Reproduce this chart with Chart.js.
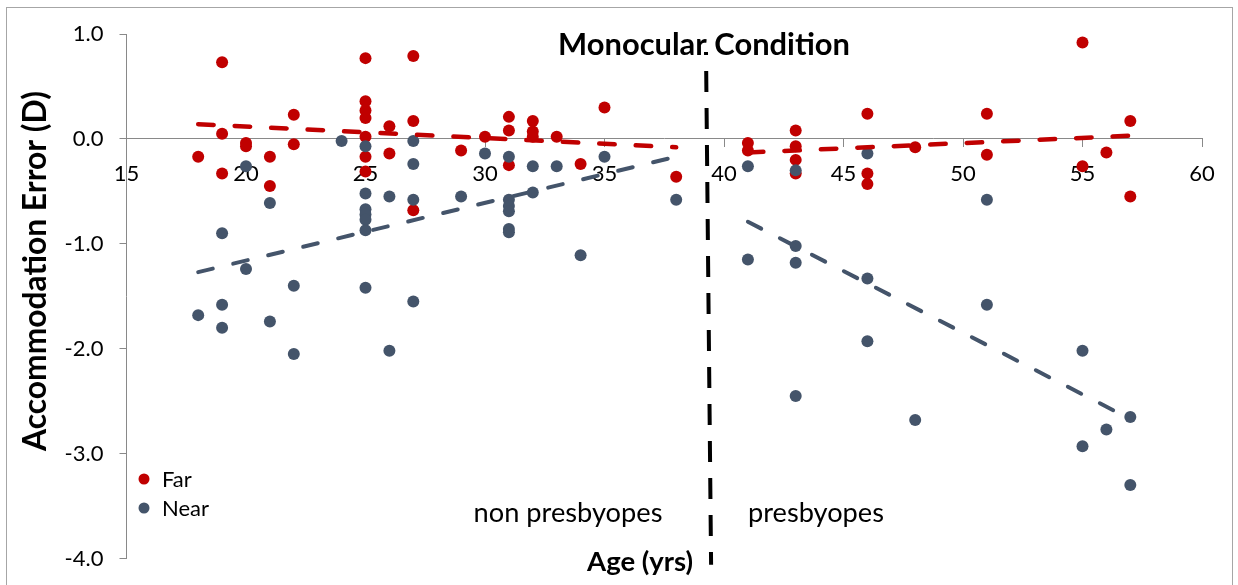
<!DOCTYPE html>
<html><head><meta charset="utf-8">
<script src="https://cdn.jsdelivr.net/npm/chart.js@4.4.1/dist/chart.umd.min.js"></script>
<style>html,body{margin:0;padding:0;background:#fff;} canvas{display:block;}</style>
</head><body>
<canvas id="c" width="1238" height="585"></canvas>
<script>
// ---- data ----
const farAges   = [18,19,19,19,20,20,21,21,22,22,25,25,25,25,25,25,25,26,26,27,27,27,29,30,31,31,31,32,32,32,33,34,35,38,41,41,43,43,43,43,46,46,46,48,51,51,55,55,56,57,57];
const farErrors = [-0.17,0.73,0.05,-0.33,-0.04,-0.07,-0.17,-0.45,0.23,-0.05,0.77,0.36,0.27,0.20,0.02,-0.17,-0.31,0.12,-0.14,0.79,0.17,-0.68,-0.11,0.02,0.21,0.08,-0.25,0.17,0.07,0.02,0.02,-0.24,0.30,-0.36,-0.04,-0.11,0.08,-0.07,-0.20,-0.33,0.24,-0.33,-0.43,-0.08,0.24,-0.15,0.92,-0.26,-0.13,0.17,-0.55];
const nearAges   = [18,19,19,19,20,20,21,21,22,22,24,25,25,25,25,25,25,25,26,26,27,27,27,27,29,30,31,31,31,31,31,31,32,32,33,34,35,38,41,41,43,43,43,43,46,46,46,48,51,51,55,55,56,57,57];
const nearErrors = [-1.68,-0.90,-1.58,-1.80,-0.26,-1.24,-0.61,-1.74,-1.40,-2.05,-0.02,-0.07,-0.52,-0.67,-0.72,-0.77,-0.87,-1.42,-0.55,-2.02,-0.02,-0.24,-0.58,-1.55,-0.55,-0.14,-0.17,-0.58,-0.64,-0.69,-0.86,-0.89,-0.26,-0.51,-0.26,-1.11,-0.17,-0.58,-0.26,-1.15,-0.30,-1.02,-1.18,-2.45,-0.14,-1.33,-1.93,-2.68,-0.58,-1.58,-2.02,-2.93,-2.77,-2.65,-3.30];

// trend lines (end points)
const trendNonAges  = [18, 38];
const farTrendNon   = [0.14, -0.08];
const nearTrendNon  = [-1.27, -0.17];
const trendPresAges = [41, 57];
const farTrendPres  = [-0.13, 0.03];
const nearTrendPres = [-0.79, -2.67];

// presbyopia divider
const dividerAges   = [39.24, 39.46];
const dividerErrors = [1.0, -4.06];

// axes / labels
const xMin = 15, xMax = 60, xStep = 5;
const yMin = -4, yMax = 1, yStep = 1;
const seriesNames = ['Far', 'Near'];
const chartTitle = 'Monocular Condition';
const xTitle = 'Age (yrs)';
const yTitle = 'Accommodation Error (D)';
const groupLabels = ['non presbyopes', 'presbyopes'];

const RED = '#C00000', BLUE = '#44546A', AXIS = '#898989';
const pts = (xs, ys) => xs.map((x, i) => ({x: x, y: ys[i]}));

function fitSize(ctx, text, weight, target) {
  ctx.font = weight + ' 100px Lato';
  return 100 * target / ctx.measureText(text).width;
}

const decor = {
  id: 'decor',
  beforeDraw(chart) {
    const ctx = chart.ctx;
    ctx.save();
    ctx.fillStyle = '#fff';
    ctx.fillRect(0, 0, chart.width, chart.height);
    ctx.strokeStyle = '#a6a6a6';
    ctx.lineWidth = 1;
    ctx.strokeRect(6.5, 7.5, 1226, 600);
    ctx.restore();
  },
  afterDraw(chart) {
    const ctx = chart.ctx;
    ctx.save();
    ctx.fillStyle = '#000';
    ctx.textBaseline = 'alphabetic';
    ctx.textAlign = 'center';
    // chart title with white box
    let s = fitSize(ctx, chartTitle, 'bold', 292);
    ctx.font = 'bold ' + s + 'px Lato';
    let w = ctx.measureText(chartTitle).width;
    ctx.fillStyle = '#fff';
    ctx.fillRect(704 - w / 2 - 4, 26, w + 8, 26);
    ctx.fillStyle = '#000';
    ctx.fillText(chartTitle, 704, 55);
    // x title
    s = fitSize(ctx, xTitle, 'bold', 106);
    ctx.font = 'bold ' + s + 'px Lato';
    ctx.fillText(xTitle, 640, 571);
    // y title
    s = fitSize(ctx, yTitle, 'bold', 360);
    ctx.font = 'bold ' + s + 'px Lato';
    ctx.save();
    ctx.translate(46, 271);
    ctx.rotate(-Math.PI / 2);
    ctx.fillText(yTitle, 0, 0);
    ctx.restore();
    // group labels
    s = fitSize(ctx, groupLabels[0], 'normal', 189);
    ctx.font = 'normal ' + s + 'px Lato';
    ctx.fillText(groupLabels[0], 568, 522);
    s = fitSize(ctx, groupLabels[1], 'normal', 136);
    ctx.font = 'normal ' + s + 'px Lato';
    ctx.fillText(groupLabels[1], 816, 522);
    // legend
    s = fitSize(ctx, seriesNames[1], 'normal', 47);
    ctx.font = 'normal ' + s + 'px Lato';
    ctx.textAlign = 'left';
    const legendCols = [RED, BLUE];
    seriesNames.forEach((name, i) => {
      const cy = 479 + i * 29;
      ctx.fillStyle = legendCols[i];
      ctx.beginPath(); ctx.arc(144, cy, 5.5, 0, Math.PI * 2); ctx.fill();
      ctx.fillStyle = '#000';
      ctx.fillText(name, 162, cy + 8);
    });
    ctx.restore();
  }
};

const trend = (xs, ys, color, width, dash) => ({
  type: 'line', data: pts(xs, ys), showLine: true, borderColor: color, borderWidth: width,
  borderDash: dash, borderCapStyle: 'round', pointRadius: 0, fill: false, order: 0
});

new Chart(document.getElementById('c'), {
  type: 'scatter',
  data: {
    datasets: [
      {label: 'divider', type: 'line', data: pts(dividerAges, dividerErrors), showLine: true,
       borderColor: '#000', borderWidth: 4, borderDash: [21, 16], borderCapStyle: 'butt',
       pointRadius: 0, fill: false, clip: false, order: 0},
      trend(trendNonAges, farTrendNon, RED, 4.5, [15.5, 21]),
      trend(trendPresAges, farTrendPres, RED, 4.5, [15.5, 21]),
      trend(trendNonAges, nearTrendNon, BLUE, 4, [15, 21]),
      trend(trendPresAges, nearTrendPres, BLUE, 4, [15, 21]),
      {label: seriesNames[1], data: pts(nearAges, nearErrors), backgroundColor: BLUE, borderWidth: 0, pointRadius: 6, order: 1},
      {label: seriesNames[0], data: pts(farAges, farErrors), backgroundColor: RED, borderWidth: 0, pointRadius: 6, order: 2}
    ]
  },
  options: {
    responsive: false, animation: false, devicePixelRatio: 1,
    layout: {padding: {left: 0, top: 34, right: 36, bottom: 26.5}},
    plugins: {legend: {display: false}, tooltip: {enabled: false}, title: {display: false}},
    scales: {
      x: {
        type: 'linear', position: {y: 0}, min: xMin, max: xMax, z: 1,
        ticks: {stepSize: xStep, color: '#000', font: {family: 'Lato', size: 22}, padding: 14, maxRotation: 0, autoSkip: false},
        grid: {drawOnChartArea: false, drawTicks: true, tickLength: 8, color: AXIS},
        border: {display: true, color: AXIS, width: 1},
        afterFit: (sc) => { sc.height = 0; sc.paddingLeft = 0; sc.paddingRight = 0; }
      },
      y: {
        type: 'linear', position: 'left', min: yMin, max: yMax,
        ticks: {stepSize: yStep, color: '#000', font: {family: 'Lato', size: 22}, padding: 16, callback: (v) => v.toFixed(1)},
        grid: {drawOnChartArea: false, drawTicks: true, tickLength: 7, color: AXIS},
        border: {display: true, color: AXIS, width: 1},
        afterFit: (sc) => { sc.width = 126.5; sc.paddingTop = 0; sc.paddingBottom = 0; }
      }
    }
  },
  plugins: [decor]
});
</script>
</body></html>
